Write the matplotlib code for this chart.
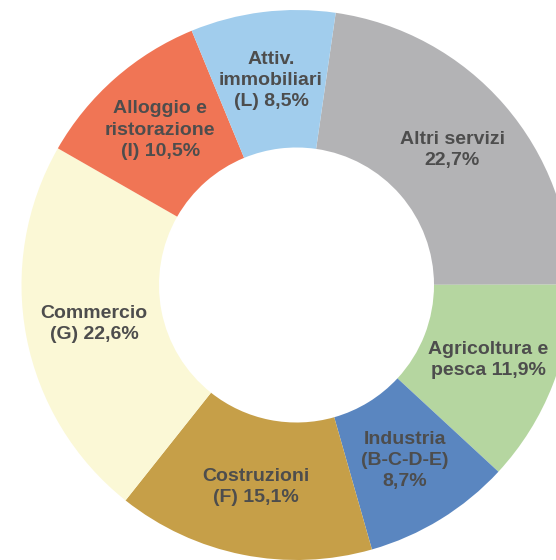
import matplotlib
matplotlib.use("Agg")
import numpy as np
import matplotlib.pyplot as plt

# Data (clockwise from the top)
labels = [
    "Altri servizi\n22,7%",
    "Agricoltura e\npesca 11,9%",
    "Industria\n(B-C-D-E)\n8,7%",
    "Costruzioni\n(F) 15,1%",
    "Commercio\n(G) 22,6%",
    "Alloggio e\nristorazione\n(I) 10,5%",
    "Attiv.\nimmobiliari\n(L) 8,5%",
]
values = [22.7, 11.9, 8.7, 15.1, 22.6, 10.5, 8.5]
colors = ["#B3B3B5", "#B5D6A0", "#5A86C0", "#C69F48",
          "#FBF8D6", "#F07555", "#A1CDED"]

fig = plt.figure(figsize=(5.56, 5.60), dpi=100)
ax = fig.add_axes([0, 0, 1, 1])

wedges, _ = ax.pie(values, colors=colors, startangle=81.8, counterclock=False,
                   radius=1.0, wedgeprops=dict(width=0.5, linewidth=0))

# label at the middle of each ring segment
r_lab = 0.75
for w, lab in zip(wedges, labels):
    theta = np.deg2rad((w.theta1 + w.theta2) / 2)
    ax.text(r_lab * np.cos(theta), r_lab * np.sin(theta), lab,
            ha="center", va="center", fontsize=14, fontweight="bold",
            color="#4D4D4D", family=["Liberation Sans", "DejaVu Sans"],
            linespacing=1.32)

# the ring is cut by the right and bottom edges of the picture
ax.set_aspect("auto")
ax.set_xlim(-296.5 / 275, (556 - 296.5) / 275)
ax.set_ylim((285 - 560) / 275, 285 / 275)
ax.axis("off")

fig.savefig("out.png", dpi=100)
